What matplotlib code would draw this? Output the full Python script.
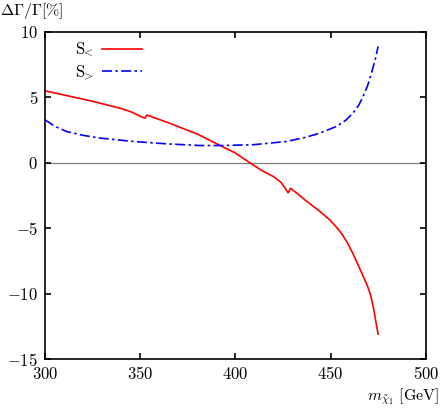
import matplotlib
matplotlib.use('Agg')
import matplotlib.pyplot as plt

plt.rcParams['mathtext.fontset'] = 'cm'
plt.rcParams['font.family'] = 'serif'
plt.rcParams['font.serif'] = ['DejaVu Serif']

# S< curve
m_lt = [300, 311, 325, 340, 346, 350, 352.5, 353.5, 365, 380, 392, 400, 407.6,
        414, 420, 424, 426, 427.7, 429, 433, 436.5, 443, 449.6, 453, 456, 459,
        461.8, 464, 466, 468.8, 470, 471, 472.3, 473.3, 474, 475]
s_lt = [5.5, 5.15, 4.7, 4.15, 3.85, 3.55, 3.42, 3.65, 3.05, 2.2, 1.32, 0.75, 0.0,
        -0.6, -1.05, -1.5, -1.9, -2.3, -1.95, -2.4, -2.83, -3.55, -4.36, -4.9, -5.45,
        -6.15, -6.95, -7.65, -8.3, -9.2, -9.65, -10.1, -10.9, -11.7, -12.3, -13.1]

# S> curve
m_gt = [300, 305, 311.4, 320, 328.9, 346.4, 363.9, 381.4, 391.9, 409.3, 426.8,
        437, 444.4, 453.1, 458, 461.8, 465, 467.1, 469.5, 471.5, 473.5, 475]
s_gt = [3.29, 2.8, 2.39, 2.1, 1.89, 1.63, 1.45, 1.32, 1.32, 1.38, 1.63,
        1.95, 2.27, 2.78, 3.25, 3.8, 4.45, 5.07, 5.9, 6.86, 7.9, 8.9]

xticks = [300, 350, 400, 450, 500]
yticks = [-15, -10, -5, 0, 5, 10]

fig = plt.figure(figsize=(4.4, 4.09), dpi=100)
ax = fig.add_axes([0.1023, 0.1222, 0.8652, 0.7996])

ax.axhline(0, color='#808080', lw=0.9, zorder=1)
ax.plot(m_lt, s_lt, color='red', lw=1.2, label=r'$\mathrm{S}_{\!\!<}$')
ax.plot(m_gt, s_gt, color='blue', lw=1.2, linestyle=(0, (6, 2, 1.5, 2)),
        label=r'$\mathrm{S}_{\!\!>}$')

ax.set_xlim(300, 500)
ax.set_ylim(-15, 10)
ax.set_xticks(xticks)
ax.set_yticks(yticks)
ax.set_xticklabels([r'$%d$' % v for v in xticks])
ax.set_yticklabels([r'$%d$' % v for v in yticks])
ax.tick_params(direction='in', top=True, right=True, length=4, width=1.2,
               labelsize=12, pad=5)
for sp in ax.spines.values():
    sp.set_linewidth(1.2)

leg = ax.legend(loc='upper left', frameon=False, markerfirst=False,
                handlelength=2.4, fontsize=12, bbox_to_anchor=(0.04, 1.02),
                labelspacing=0.25, handletextpad=0.5)

fig.text(0.0, 0.998, r'$\Delta\Gamma/\Gamma[\%]$', fontsize=11.5, va='top', ha='left')
fig.text(0.998, 0.005, r'$m_{\tilde{\chi}_1}\ [\mathrm{GeV}]$', fontsize=11.5,
         va='bottom', ha='right')

fig.savefig('out.png', dpi=100)
